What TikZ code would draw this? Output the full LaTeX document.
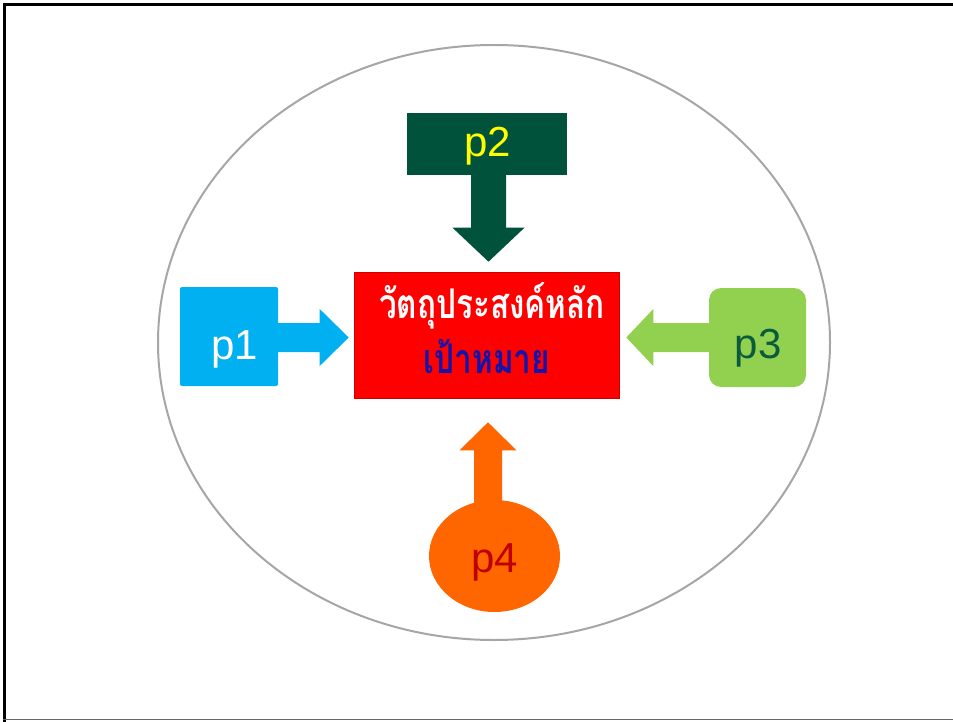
\documentclass[tikz,border=0pt]{standalone}
\usepackage{fontspec}
\setmainfont{Liberation Sans}
\newfontfamily\thaifont[Script=Thai]{Loma}
\usetikzlibrary{calc,shapes.geometric}
\definecolor{pblue}{RGB}{0,176,240}
\definecolor{pdgreen}{RGB}{0,82,58}
\definecolor{plgreen}{RGB}{146,208,80}
\definecolor{porange}{RGB}{255,102,0}
\definecolor{ptextgreen}{RGB}{10,90,60}
\definecolor{ptextred}{RGB}{192,0,0}
\definecolor{pyellow}{RGB}{255,255,0}
\definecolor{thaiblue}{RGB}{20,20,170}
\definecolor{ringgray}{RGB}{166,166,166}
\definecolor{goalred}{RGB}{255,0,0}
\newcommand{\thaistretch}[1]{\scalebox{1}[1.3]{#1}}
\begin{document}
\begin{tikzpicture}[x=1pt,y=-1pt,
  plabel/.style={font=\fontsize{42}{42}\selectfont, inner sep=0pt, anchor=base},
  thaitext/.style={font=\thaifont\bfseries\fontsize{31.5}{31.5}\selectfont, inner sep=0pt, anchor=base},
  goalbox/.style={rectangle, fill=goalred, draw=red!80!black, line width=0.6pt, minimum width=265pt, minimum height=126pt, inner sep=0pt}
]
\useasboundingbox (0,0) rectangle (953,722);
\fill[white] (0,0) rectangle (953,722);
% frame
\draw[line width=3pt] (4.5,722) -- (4.5,4.2) -- (953,4.2);
\draw[line width=1.5pt, black!60] (3,719.5) -- (953,719.5);
% ring
\draw[ringgray, line width=2pt] (494,342.5) ellipse [x radius=336pt, y radius=297.5pt];

% central goal
\node[goalbox] (goal) at (486.5,335) {};
\node[thaitext, text=white] (goalt1) at (492,318) {\thaistretch{วัตถุประสงค์หลัก}};
\node[thaitext, text=thaiblue] (goalt2) at (487,373) {\thaistretch{เป้าหมาย}};

% p1
\node[rectangle, fill=pblue, rounded corners=2pt, minimum width=98pt, minimum height=99pt, inner sep=0pt] (p1) at (229,336.5) {};
\node[plabel, text=white] (p1t) at (235,359) {p1};
\coordinate (t1) at ($(goal.west |- p1.east)+(-5,1)$);
\fill[pblue] ($(p1.east)+(-1,-13.5)$) -- ($(t1)+(-29,-14.5)$) -- ($(t1)+(-29,-28.5)$) -- (t1)
  -- ($(t1)+(-29,28.5)$) -- ($(t1)+(-29,14.5)$) -- ($(p1.east)+(-1,15.5)$) -- cycle;

% p2
\node[rectangle, fill=pdgreen, minimum width=160pt, minimum height=62pt, inner sep=0pt] (p2) at (487,144) {};
\node[plabel, text=pyellow] (p2t) at (488,157) {p2};
\coordinate (t2) at ($(p2.south |- goal.north)+(1.5,-10)$);
\fill[pdgreen] ($(p2.south)+(-16,-1)$) -- ($(t2)+(-17.5,-34)$) -- ($(t2)+(-36,-34)$) -- (t2)
  -- ($(t2)+(36,-34)$) -- ($(t2)+(17.5,-34)$) -- ($(p2.south)+(19,-1)$) -- cycle;

% p3
\node[rectangle, fill=plgreen, rounded corners=12pt, minimum width=97pt, minimum height=99pt, inner sep=0pt] (p3) at (757.5,337.5) {};
\node[plabel, text=ptextgreen] (p3t) at (758,358) {p3};
\coordinate (t3) at ($(goal.east |- p3.west)+(7,0)$);
\fill[plgreen] ($(p3.west)+(1,-14.5)$) -- ($(t3)+(27,-14.5)$) -- ($(t3)+(27,-28.5)$) -- (t3)
  -- ($(t3)+(27,28.5)$) -- ($(t3)+(27,14.5)$) -- ($(p3.west)+(1,14.5)$) -- cycle;

% p4
\node[ellipse, fill=porange, minimum width=131pt, minimum height=112pt, inner sep=0pt] (p4) at (494.5,556) {};
\node[plabel, text=ptextred] (p4t) at (495,572) {p4};
\coordinate (t4) at ($(goal.south)+(1.5,24)$);
\fill[porange] ($(t4 |- p4.north)+(-14,10)$) -- ($(t4)+(-14,28)$) -- ($(t4)+(-28.5,28)$) -- (t4)
  -- ($(t4)+(28.5,28)$) -- ($(t4)+(14,28)$) -- ($(t4 |- p4.north)+(14,10)$) -- cycle;
\end{tikzpicture}
\end{document}
